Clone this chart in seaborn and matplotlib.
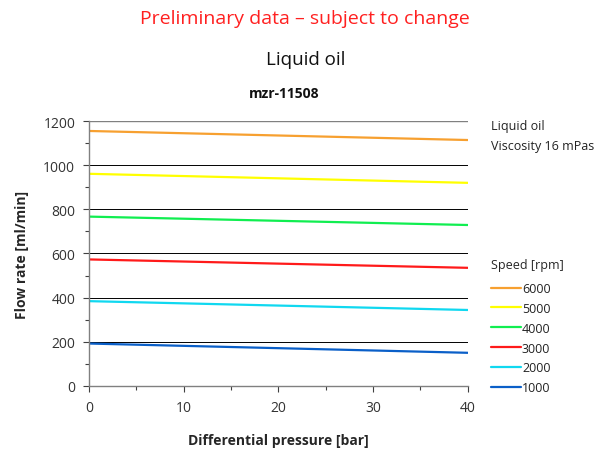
import matplotlib

matplotlib.use("Agg")
import matplotlib.pyplot as plt  # noqa: E402
import numpy as np  # noqa: E402
import pandas as pd  # noqa: E402
import seaborn as sns  # noqa: E402
from matplotlib.ticker import MultipleLocator  # noqa: E402

# data (flow rate at 0 and 40 bar)
pressure = [0, 40]
speeds = ["6000", "5000", "4000", "3000", "2000", "1000"]
flow_6000 = [1155, 1114]
flow_5000 = [961, 920]
flow_4000 = [767, 729]
flow_3000 = [573, 535]
flow_2000 = [384, 344]
flow_1000 = [192, 150]
colors = ["#F7A030", "#FFFF00", "#10EE50", "#FF1A1A", "#10D8F0", "#0A5FC8"]

sns.set_theme(style="white")
plt.rcParams["font.family"] = ["Open Sans", "DejaVu Sans"]

flows = [flow_6000, flow_5000, flow_4000, flow_3000, flow_2000, flow_1000]
df = pd.concat(
    [pd.DataFrame({"pressure": pressure, "flow": f, "speed": s}) for s, f in zip(speeds, flows)]
)

fig = plt.figure(figsize=(6.02, 4.52), dpi=100)
ax = fig.add_axes([0.148, 0.144, 0.629, 0.586])

sns.lineplot(
    data=df, x="pressure", y="flow", hue="speed", hue_order=speeds,
    palette=dict(zip(speeds, colors)), linewidth=1.6, ax=ax, legend=False,
)

ax.set_xlim(0, 40)
ax.set_ylim(0, 1200)
ax.xaxis.set_major_locator(MultipleLocator(10))
ax.xaxis.set_minor_locator(MultipleLocator(5))
ax.yaxis.set_major_locator(MultipleLocator(200))
ax.yaxis.set_minor_locator(MultipleLocator(100))
for y in np.arange(200, 1001, 200):
    ax.axhline(y, color="black", linewidth=0.7, zorder=0)
ax.axhline(1200, color="#808080", linewidth=1.0, zorder=0)

for side in ["top", "right"]:
    ax.spines[side].set_visible(False)
for side in ["left", "bottom"]:
    ax.spines[side].set_color("#808080")
    ax.spines[side].set_linewidth(1.0)
ax.tick_params(which="both", direction="out", color="#404040", width=0.8,
               left=True, bottom=True, labelsize=10, labelcolor="#333333", pad=6)
ax.tick_params(which="major", length=4)
ax.tick_params(which="minor", length=3)

ax.set_xlabel("Differential pressure [bar]", fontsize=10, fontweight="bold", labelpad=13)
ax.set_ylabel("Flow rate [ml/min]", fontsize=10, fontweight="bold", labelpad=10)

fig.text(0.507, 0.957, "Preliminary data \u2013 subject to change", color="#FF2020",
         fontsize=14, ha="center", va="center")
fig.text(0.507, 0.868, "Liquid oil", color="#111111", fontsize=13.5, ha="center", va="center")
fig.text(0.472, 0.792, "mzr-11508", color="#111111", fontsize=10, fontweight="bold",
         ha="center", va="center")
fig.text(0.815, 0.721, "Liquid oil", color="#222222", fontsize=9, va="center")
fig.text(0.815, 0.675, "Viscosity 16 mPas", color="#222222", fontsize=9, va="center")

handles = [plt.Line2D([], [], color=c, linewidth=1.6) for c in colors]
leg = ax.legend(handles, speeds, title="Speed [rpm]", loc="upper left",
                bbox_to_anchor=(1.031, 0.51), frameon=False, fontsize=9,
                title_fontsize=9, handlelength=2.4, handletextpad=0.1,
                labelspacing=0.55, alignment="left", borderpad=0.4)
leg.get_title().set_position((0, 4))
for t in leg.get_texts():
    t.set_color("#222222")

fig.savefig("out.png", dpi=100)
plt.close(fig)
